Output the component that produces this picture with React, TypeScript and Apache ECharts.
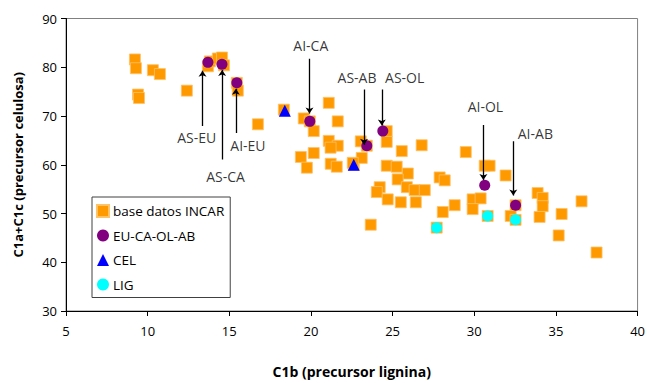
import React, { useEffect, useRef } from "react";
import * as echarts from "echarts";

// base datos INCAR: [C1b, C1a+C1c]
const incarX = [9.22, 9.28, 10.32, 10.75, 9.41, 9.47, 12.4, 13.69, 13.81, 14.3, 14.55, 14.67, 15.46, 15.52, 16.75, 18.34, 21.09, 19.56, 19.93, 20.17, 21.64, 21.09, 21.64, 21.2, 19.38, 20.17, 19.75, 21.21, 21.58, 22.62, 23.05, 23.11, 22.56, 23.42, 24.64, 24.64, 25.56, 26.78, 24.64, 25.25, 25.93, 25.31, 24.21, 24.03, 25.87, 26.35, 26.97, 24.7, 25.5, 26.42, 27.88, 28.19, 28.07, 23.66, 29.48, 30.64, 30.94, 31.92, 29.9, 30.39, 29.9, 28.8, 27.7, 30.82, 32.53, 32.23, 32.53, 33.88, 34.19, 34.19, 34.0, 35.35, 36.57, 35.17, 37.49];
const incarY = [81.6, 79.8, 79.4, 78.6, 74.4, 73.7, 75.2, 80.2, 81.2, 81.8, 82.0, 80.4, 76.8, 75.2, 68.3, 71.3, 72.7, 69.5, 68.9, 66.9, 68.9, 64.9, 63.9, 63.5, 61.6, 62.4, 59.4, 60.2, 59.6, 60.0, 64.8, 61.4, 60.4, 63.9, 66.9, 64.7, 62.8, 64.0, 59.8, 59.6, 58.2, 57.0, 55.4, 54.4, 55.4, 54.8, 54.8, 52.9, 52.3, 52.3, 57.4, 56.8, 50.3, 47.7, 62.6, 59.8, 59.8, 57.8, 52.9, 53.1, 50.9, 51.7, 47.1, 49.5, 51.7, 49.5, 48.7, 54.2, 53.2, 51.5, 49.3, 49.9, 52.5, 45.5, 42.0];

// EU-CA-OL-AB
const ecoaX = [13.69, 14.55, 15.46, 19.93, 23.42, 24.4, 30.64, 32.53];
const ecoaY = [81.0, 80.6, 76.8, 68.9, 63.9, 66.9, 55.8, 51.7];

// CEL
const celX = [18.4, 22.62];
const celY = [71.1, 60.0];

// LIG
const ligX = [27.7, 30.82, 32.53];
const ligY = [47.1, 49.5, 48.7];

// annotations: label, arrow x, arrow start y, arrow tip y, label x, label y
const annNames = ["AS-EU", "AS-CA", "AI-EU", "AI-CA", "AS-AB", "AS-OL", "AI-OL", "AI-AB"];
const annArrowX = [13.36, 14.56, 15.4, 19.91, 23.25, 24.34, 30.56, 32.39];
const annFromY = [67.95, 61.1, 66.5, 81.76, 75.42, 75.42, 68.15, 64.8];
const annToY = [79.26, 79.46, 75.6, 70.52, 64.12, 68.03, 56.85, 53.7];
const annLabelX = [13.0, 14.77, 16.14, 19.99, 22.82, 25.74, 30.68, 33.74];
const annLabelY = [65.5, 57.6, 63.9, 84.45, 77.93, 77.93, 71.87, 66.48];

const zip = (xs: number[], ys: number[]) => xs.map((x, i) => [x, ys[i]]);

const FONT = "Open Sans";

export default function App() {
  const ref = useRef<HTMLDivElement>(null);
  useEffect(() => {
    if (!ref.current) return;
    const chart = echarts.init(ref.current, undefined, { renderer: "svg" });
    chart.setOption({
      animation: false,
      backgroundColor: "#fff",
      textStyle: { fontFamily: FONT },
      grid: {
        left: 66,
        right: 10,
        top: 18.5,
        bottom: 67.3,
        show: true,
        borderColor: "#808080",
        borderWidth: 1,
      },
      legend: {
        orient: "vertical",
        left: 92,
        top: 197,
        padding: [7, 6, 6, 4],
        itemGap: 10.5,
        itemWidth: 12,
        itemHeight: 12,
        borderColor: "#404040",
        borderWidth: 1,
        backgroundColor: "#fff",
        textStyle: { fontFamily: FONT, fontSize: 13.5, color: "#000", padding: [0, 0, 0, -1] },
        data: [
          { name: "base datos INCAR", icon: "rect" },
          { name: "EU-CA-OL-AB", icon: "circle" },
          { name: "CEL", icon: "triangle" },
          { name: "LIG", icon: "circle" },
        ],
      },
      xAxis: {
        type: "value",
        min: 5,
        max: 40,
        interval: 5,
        name: "C1b (precursor lignina)",
        nameLocation: "middle",
        nameGap: 53,
        nameTextStyle: { fontFamily: FONT, fontWeight: "bold", fontSize: 14, color: "#000" },
        axisLine: { lineStyle: { color: "#000", width: 1 } },
        axisTick: { show: true, inside: false, length: 5, lineStyle: { color: "#000" } },
        axisLabel: { fontFamily: FONT, fontSize: 13, color: "#000", margin: 13 },
        splitLine: { show: false },
      },
      yAxis: {
        type: "value",
        min: 30,
        max: 90,
        interval: 10,
        name: "C1a+C1c (precursor celulosa)",
        nameLocation: "middle",
        nameGap: 42,
        nameTextStyle: { fontFamily: FONT, fontWeight: "bold", fontSize: 13, color: "#000" },
        axisLine: { show: true, lineStyle: { color: "#000", width: 1 } },
        axisTick: { show: true, inside: false, length: 5, lineStyle: { color: "#000" } },
        axisLabel: { fontFamily: FONT, fontSize: 13, color: "#000", margin: 9 },
        splitLine: { show: false },
      },
      series: [
        {
          name: "base datos INCAR",
          type: "scatter",
          symbol: "rect",
          symbolSize: 11,
          itemStyle: { color: "#FF9900", borderColor: "#FFC266", borderWidth: 0.8, opacity: 1 },
          data: zip(incarX, incarY),
          z: 2,
        },
        {
          name: "EU-CA-OL-AB",
          type: "scatter",
          symbol: "circle",
          symbolSize: 11,
          itemStyle: { color: "#800080", opacity: 1 },
          data: zip(ecoaX, ecoaY),
          z: 3,
        },
        {
          name: "CEL",
          type: "scatter",
          symbol: "triangle",
          symbolSize: 12,
          itemStyle: { color: "#0000FF", opacity: 1 },
          data: zip(celX, celY),
          z: 3,
        },
        {
          name: "LIG",
          type: "scatter",
          symbol: "circle",
          symbolSize: 11,
          itemStyle: { color: "#00FFFF", opacity: 1 },
          data: zip(ligX, ligY),
          z: 3,
        },
        {
          name: "arrows",
          type: "lines",
          coordinateSystem: "cartesian2d",
          symbol: ["none", "arrow"],
          symbolSize: 6,
          silent: true,
          lineStyle: { color: "#000", width: 1.3, opacity: 1 },
          data: annNames.map((n, i) => ({
            name: n,
            coords: [
              [annArrowX[i], annFromY[i]],
              [annArrowX[i], annToY[i]],
            ],
          })),
          z: 5,
        },
        {
          name: "labels",
          type: "scatter",
          symbolSize: 0,
          silent: true,
          label: {
            show: true,
            position: "inside",
            formatter: "{b}",
            fontFamily: FONT,
            fontSize: 14,
            color: "#000",
          },
          data: annNames.map((n, i) => ({ name: n, value: [annLabelX[i], annLabelY[i]] })),
          z: 5,
        },
      ],
    });
    return () => chart.dispose();
  }, []);
  return (
    <div
      ref={ref}
      style={{ position: "fixed", left: 0, top: 0, width: 648, height: 383, background: "#fff" }}
    />
  );
}
